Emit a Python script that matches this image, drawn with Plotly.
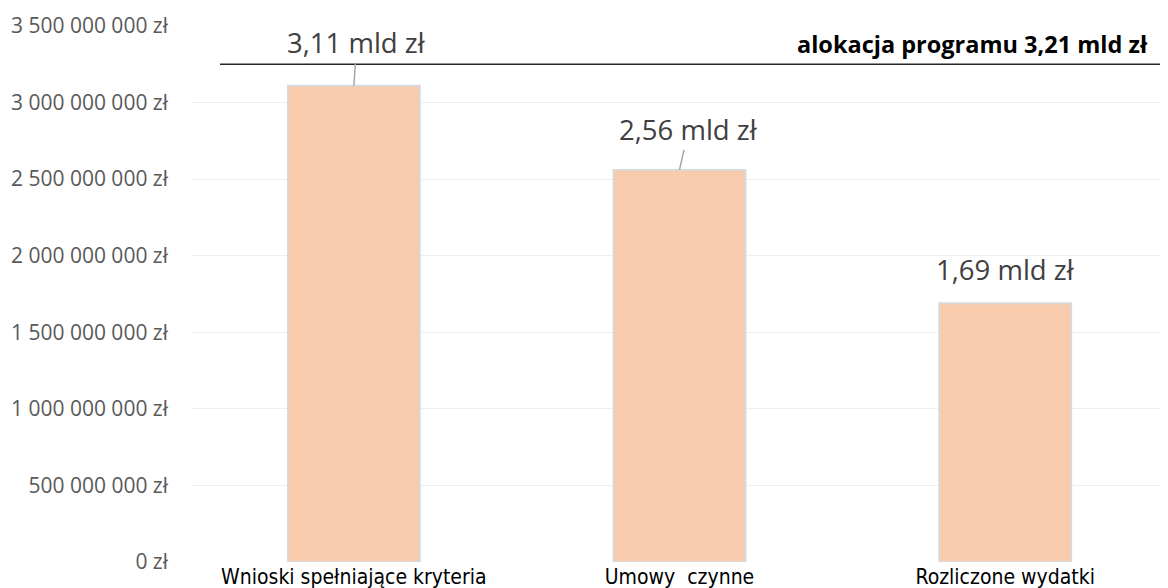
import plotly.graph_objects as go

# dane
kategorie = ["Wnioski spełniające kryteria", "Umowy  czynne", "Rozliczone wydatki"]
wartosci = [3.11e9, 2.56e9, 1.69e9]
etykiety = ["3,11 mld zł", "2,56 mld zł", "1,69 mld zł"]
os_y_wartosci = [0, 5e8, 1e9, 1.5e9, 2e9, 2.5e9, 3e9, 3.5e9]
os_y_etykiety = ["0 zł", "500 000 000 zł", "1 000 000 000 zł", "1 500 000 000 zł",
                 "2 000 000 000 zł", "2 500 000 000 zł", "3 000 000 000 zł", "3 500 000 000 zł"]
linia_alokacji = 3.25e9
opis_alokacji = "alokacja programu 3,21 mld zł"

fig = go.Figure()
fig.add_trace(go.Bar(
    x=kategorie, y=wartosci, width=0.405,
    marker=dict(color="#F8CBAD", line=dict(color="#D9D9D9", width=2)),
    hoverinfo="skip", showlegend=False,
))

# etykiety wartosci z liniami odniesienia
przesuniecia = [(3, -43, True), (9, -40, True), (0, -34, False)]
for kat, val, txt, (ax, ay, strzalka) in zip(kategorie, wartosci, etykiety, przesuniecia):
    if strzalka:
        fig.add_annotation(x=kat, y=val, text=txt, showarrow=True, arrowhead=0,
                           arrowwidth=1.5, arrowcolor="#A6A6A6", ax=ax, ay=ay,
                           font=dict(family="Open Sans", size=27.5, color="#404040"))
    else:
        fig.add_annotation(x=kat, y=val, text=txt, showarrow=False, yshift=-ay,
                           font=dict(family="Open Sans", size=27.5, color="#404040"))

# linia alokacji
fig.add_shape(type="line", xref="paper", yref="y", x0=0.0297, x1=1.0,
              y0=linia_alokacji, y1=linia_alokacji, line=dict(color="#262626", width=1.5))
fig.add_annotation(xref="paper", yref="y", x=0.982, y=linia_alokacji, xanchor="right",
                   yanchor="bottom", yshift=2, showarrow=False, text="<b>" + opis_alokacji + "</b>",
                   font=dict(family="Open Sans", size=23.5, color="#000000"))

# strona ma 8px marginesu, wiec wykres jest przesuniety
fig.update_layout(
    width=1168, height=588,
    margin=dict(l=183, r=8, t=18, b=34),
    plot_bgcolor="white", paper_bgcolor="white",
)
fig.update_xaxes(
    range=[-0.5, 2.5], showgrid=False, showline=False, zeroline=False, automargin=False,
    tickfont=dict(family="Liberation Sans Narrow, DejaVu Sans Condensed, sans-serif", size=21, color="#000000"),
)
fig.update_yaxes(
    range=[0, 3.5e9], tickvals=os_y_wartosci, ticktext=os_y_etykiety,
    showgrid=True, gridcolor="#EFEFEF", gridwidth=1, zeroline=False, showline=False,
    automargin=False, ticklabelstandoff=22,
    tickfont=dict(family="Open Sans", size=21, color="#595959"),
)

fig.write_html("out.html")
